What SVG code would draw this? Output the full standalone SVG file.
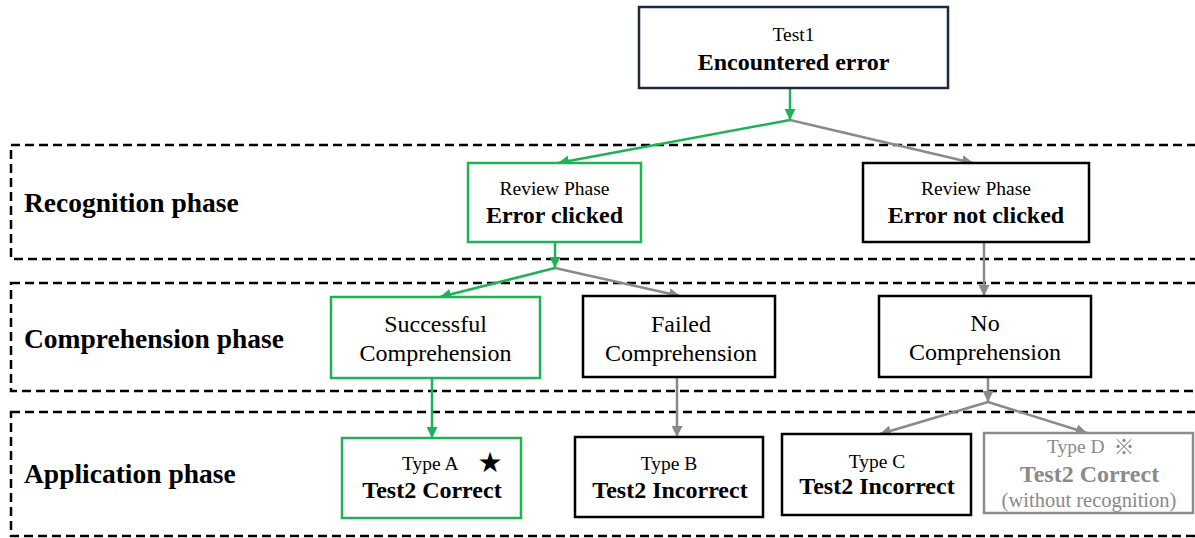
<svg xmlns="http://www.w3.org/2000/svg" width="1195" height="538" viewBox="0 0 1195 538">
  <defs>
    <marker id="arrow-green" viewBox="0 0 10 10" refX="10" refY="5" markerWidth="11" markerHeight="11" markerUnits="userSpaceOnUse" orient="auto">
      <path d="M0,0 L10,5 L0,10 Z" fill="#1db355"/>
    </marker>
    <marker id="arrow-gray" viewBox="0 0 10 10" refX="10" refY="5" markerWidth="11" markerHeight="11" markerUnits="userSpaceOnUse" orient="auto">
      <path d="M0,0 L10,5 L0,10 Z" fill="#8a8a8a"/>
    </marker>
  </defs>
  <style>
    text { font-family: "Liberation Serif", "Times New Roman", serif; text-anchor: middle; fill: #000; }
    .band { fill: none; stroke: #000; stroke-width: 2.5; stroke-dasharray: 9 5; }
    .phase { font-size: 27.5px; font-weight: bold; text-anchor: start; }
    .box { fill: #fff; stroke: #000; stroke-width: 2.5; }
    .box.top { stroke: #1c2b3a; }
    .box.ok { stroke: #1db355; }
    .box.dim { stroke: #8c8c8c; }
    .small { font-size: 19.5px; }
    .big { font-size: 24px; font-weight: bold; }
    .mid { font-size: 24px; }
    .dimtext { fill: #8a8a8a; }
    .green { fill: none; stroke: #1db355; stroke-width: 2.5; }
    .gray { fill: none; stroke: #8a8a8a; stroke-width: 2.5; }
  </style>

  <!-- phase bands -->
  <g id="phases">
    <rect class="band" x="11" y="145" width="1195" height="114"/>
    <text class="phase" x="24" y="212">Recognition phase</text>
    <rect class="band" x="11" y="283" width="1195" height="108"/>
    <text class="phase" x="24" y="348">Comprehension phase</text>
    <rect class="band" x="11" y="412" width="1195" height="124"/>
    <text class="phase" x="24" y="483">Application phase</text>
  </g>

  <!-- connectors -->
  <g id="connectors">
    <line class="green" x1="790" y1="88" x2="790" y2="120" marker-end="url(#arrow-green)"/>
    <line class="green" x1="790" y1="120" x2="558" y2="163" marker-end="url(#arrow-green)"/>
    <line class="gray" x1="790" y1="120" x2="973" y2="163" marker-end="url(#arrow-gray)"/>

    <line class="green" x1="555" y1="242" x2="555" y2="268" marker-end="url(#arrow-green)"/>
    <line class="green" x1="555" y1="268" x2="440" y2="297" marker-end="url(#arrow-green)"/>
    <line class="gray" x1="555" y1="268" x2="680" y2="296" marker-end="url(#arrow-gray)"/>

    <line class="gray" x1="984" y1="242" x2="984" y2="296" marker-end="url(#arrow-gray)"/>

    <line class="green" x1="432" y1="378" x2="432" y2="438" marker-end="url(#arrow-green)"/>
    <line class="gray" x1="677" y1="377" x2="677" y2="437" marker-end="url(#arrow-gray)"/>

    <line class="gray" x1="988" y1="377" x2="988" y2="402" marker-end="url(#arrow-gray)"/>
    <line class="gray" x1="988" y1="402" x2="880" y2="434" marker-end="url(#arrow-gray)"/>
    <line class="gray" x1="988" y1="402" x2="1087" y2="433" marker-end="url(#arrow-gray)"/>
  </g>

  <!-- nodes -->
  <g id="test1">
    <rect class="box top" x="639" y="7" width="309" height="81"/>
    <text class="small" x="793.5" y="41">Test1</text>
    <text class="big" x="793.5" y="70">Encountered error</text>
  </g>

  <g id="error-clicked">
    <rect class="box ok" x="468" y="163" width="173" height="79"/>
    <text class="small" x="554.5" y="195">Review Phase</text>
    <text class="big" x="554.5" y="223">Error clicked</text>
  </g>

  <g id="error-not-clicked">
    <rect class="box" x="863" y="163" width="226" height="79"/>
    <text class="small" x="976" y="195">Review Phase</text>
    <text class="big" x="976" y="223">Error not clicked</text>
  </g>

  <g id="successful-comprehension">
    <rect class="box ok" x="331" y="297" width="209" height="81"/>
    <text class="mid" x="435.5" y="332">Successful</text>
    <text class="mid" x="435.5" y="361">Comprehension</text>
  </g>

  <g id="failed-comprehension">
    <rect class="box" x="583" y="296" width="192" height="81"/>
    <text class="mid" x="681" y="332">Failed</text>
    <text class="mid" x="681" y="361">Comprehension</text>
  </g>

  <g id="no-comprehension">
    <rect class="box" x="879" y="296" width="212" height="81"/>
    <text class="mid" x="985" y="331">No</text>
    <text class="mid" x="985" y="360">Comprehension</text>
  </g>

  <g id="type-a">
    <rect class="box ok" x="342" y="438" width="179" height="80"/>
    <text class="small" x="402" y="470" style="text-anchor:start">Type A</text>
    <text x="490" y="472" style="font-family:'DejaVu Sans',sans-serif;font-size:28px">★</text>
    <text class="big" x="432" y="498">Test2 Correct</text>
  </g>

  <g id="type-b">
    <rect class="box" x="575" y="437" width="188" height="80"/>
    <text class="small" x="669" y="470">Type B</text>
    <text class="big" x="670" y="498">Test2 Incorrect</text>
  </g>

  <g id="type-c">
    <rect class="box" x="782" y="434" width="189" height="81"/>
    <text class="small" x="877" y="468">Type C</text>
    <text class="big" x="877" y="494">Test2 Incorrect</text>
  </g>

  <g id="type-d">
    <rect class="box dim" x="984" y="433" width="209" height="80"/>
    <text class="small dimtext" x="1047" y="453" style="text-anchor:start">Type D</text>
    <text class="dimtext" x="1124" y="454" style="font-family:'Noto Sans CJK JP','DejaVu Sans',sans-serif;font-size:21px">※</text>
    <text class="big dimtext" x="1089.5" y="482">Test2 Correct</text>
    <text class="dimtext" x="1089" y="507" style="font-size:20.5px">(without recognition)</text>
  </g>
</svg>
